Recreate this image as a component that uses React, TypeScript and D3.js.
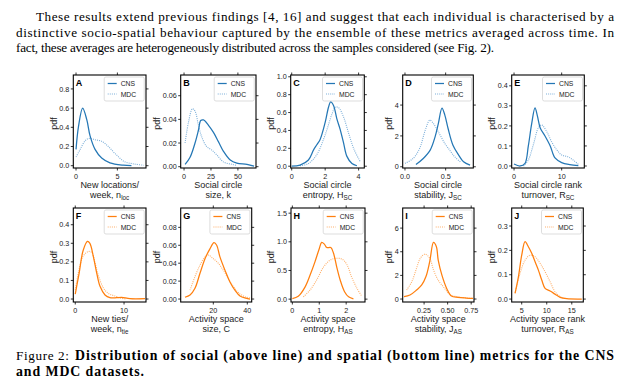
import * as d3 from 'd3'

// ---- data: [x, pdf] ----
const locCNS: [number, number][] = [[0, 0.17], [0.3, 0.41], [0.8, 0.6], [1.3, 0.48], [1.7, 0.31], [2.3, 0.17], [3.1, 0.08], [4.1, 0.03], [5.7, 0.005], [6.7, 0.0]]
const locMDC: [number, number][] = [[0, 0.09], [0.5, 0.17], [1.1, 0.26], [1.6, 0.285], [2.3, 0.27], [3.1, 0.255], [3.9, 0.2], [4.8, 0.12], [5.8, 0.045], [7.0, 0.018], [8.2, 0.005]]

const sizeCNS: [number, number][] = [[1, 0.002], [5.6, 0.008], [10.2, 0.02], [13.4, 0.031], [15.5, 0.039], [18, 0.0395], [22.7, 0.035], [27.3, 0.029], [32, 0.021], [36.6, 0.013], [42.9, 0.0056], [49, 0.003], [58.4, 0.002], [65, 0.0005]]
const sizeMDC: [number, number][] = [[1, 0.02], [4, 0.037], [7.8, 0.049], [10.2, 0.047], [13.4, 0.035], [16.5, 0.025], [21, 0.017], [25.8, 0.014], [30.4, 0.01], [36.6, 0.004], [44.4, 0.002], [49, 0.001]]

const entCNS: [number, number][] = [[0, 0.0], [0.5, 0.013], [1.0, 0.07], [1.3, 0.18], [1.5, 0.24], [1.7, 0.3], [2.0, 0.49], [2.2, 0.66], [2.33, 0.72], [2.5, 0.68], [2.7, 0.53], [2.9, 0.41], [3.1, 0.26], [3.3, 0.11], [3.6, 0.03], [3.9, 0.005]]
const entMDC: [number, number][] = [[0.5, 0.005], [1.0, 0.03], [1.5, 0.13], [2.0, 0.35], [2.4, 0.58], [2.6, 0.66], [2.8, 0.655], [3.1, 0.55], [3.4, 0.37], [3.7, 0.2], [4.1, 0.05]]

const stabCNS: [number, number][] = [[0.135, 0.15], [0.225, 0.54], [0.31, 1.08], [0.37, 1.94], [0.41, 2.8], [0.455, 3.8], [0.49, 3.35], [0.53, 2.48], [0.59, 1.4], [0.66, 0.76], [0.72, 0.32], [0.8, 0.11]]
const stabMDC: [number, number][] = [[0.0, 0.22], [0.1, 0.54], [0.18, 1.19], [0.25, 2.38], [0.305, 3.02], [0.35, 2.8], [0.41, 2.27], [0.49, 1.51], [0.55, 1.08], [0.61, 0.65], [0.68, 0.32]]

const rankCNS: [number, number][] = [[0, 0.01], [1.3, 0.0], [2.3, 0.013], [3.0, 0.1], [3.7, 0.21], [4.4, 0.29], [4.9, 0.25], [5.5, 0.19], [6.5, 0.15], [7.6, 0.1], [8.6, 0.04], [10, 0.017], [11.7, 0.007], [13.5, 0.002]]
const rankMDC: [number, number][] = [[2.0, 0.0], [3.0, 0.03], [4.1, 0.11], [5.1, 0.19], [5.8, 0.205], [6.9, 0.17], [7.9, 0.12], [9.0, 0.08], [10, 0.055], [11.4, 0.045], [12.4, 0.03], [13.5, 0.008]]

const tieCNS: [number, number][] = [[0, 0.027], [0.8, 0.14], [1.6, 0.26], [2.5, 0.31], [3.0, 0.3], [3.7, 0.23], [4.4, 0.14], [5.1, 0.067], [6.1, 0.022], [7.1, 0.007], [8.5, 0.007], [9.5, 0.009], [11.2, 0.002], [14.3, 0.002]]
const tieMDC: [number, number][] = [[0, 0.05], [0.8, 0.16], [1.6, 0.23], [2.7, 0.256], [3.4, 0.25], [4.0, 0.2], [4.7, 0.13], [5.8, 0.058], [6.8, 0.03], [8.2, 0.016], [9.5, 0.004], [10.5, 0.0]]

const asSizeCNS: [number, number][] = [[3.3, 0.002], [6.3, 0.0045], [9.2, 0.012], [12.2, 0.029], [15.1, 0.045], [18, 0.056], [20.4, 0.063], [22, 0.06], [23.9, 0.047], [26.9, 0.032], [29.8, 0.019], [32.7, 0.01], [35.7, 0.0035], [39.2, 0.001], [41.6, 0.0]]
const asSizeMDC: [number, number][] = [[6.3, 0.01], [9.2, 0.025], [12.2, 0.038], [15.1, 0.047], [17.1, 0.049], [20, 0.045], [22.9, 0.04], [25.9, 0.032], [28.8, 0.023], [31.8, 0.014], [35.7, 0.0056], [39.6, 0.002], [42.5, 0.001]]

const asEntCNS: [number, number][] = [[0, 0.01], [0.22, 0.05], [0.47, 0.21], [0.66, 0.42], [0.84, 0.65], [1.0, 0.88], [1.09, 0.99], [1.19, 0.96], [1.28, 0.9], [1.43, 0.9], [1.53, 0.8], [1.65, 0.56], [1.78, 0.33], [1.94, 0.13], [2.09, 0.04], [2.27, 0.005]]
const asEntMDC: [number, number][] = [[0.41, 0.04], [0.66, 0.16], [0.91, 0.34], [1.16, 0.56], [1.4, 0.68], [1.59, 0.71], [1.84, 0.7], [2.02, 0.61], [2.2, 0.39], [2.4, 0.19], [2.58, 0.05]]

const asStabCNS: [number, number][] = [[0.037, 0.2], [0.1, 0.34], [0.17, 0.76], [0.225, 1.19], [0.27, 1.9], [0.31, 3.17], [0.35, 4.8], [0.38, 4.45], [0.4, 3.3], [0.44, 2.0], [0.49, 0.9], [0.54, 0.25], [0.61, 0.14], [0.7, 0.08], [0.77, 0.05]]
const asStabMDC: [number, number][] = [[0.065, 0.76], [0.12, 1.47], [0.17, 2.6], [0.21, 3.45], [0.26, 3.8], [0.31, 3.45], [0.35, 2.46], [0.4, 1.6], [0.46, 0.99], [0.53, 0.34], [0.6, 0.2], [0.7, 0.08], [0.76, 0.05]]

const asRankCNS: [number, number][] = [[3.67, 0.023], [4.33, 0.09], [5.0, 0.18], [5.67, 0.236], [6.33, 0.215], [7.0, 0.188], [7.67, 0.153], [8.33, 0.119], [9.0, 0.078], [9.67, 0.044], [10.67, 0.033], [11.67, 0.02], [12.67, 0.007], [14, 0.0014], [17, 0.0]]
const asRankMDC: [number, number][] = [[3.67, 0.026], [4.67, 0.105], [5.67, 0.16], [6.67, 0.18], [7.67, 0.174], [8.67, 0.147], [9.67, 0.112], [10.67, 0.071], [11.67, 0.03], [12.67, 0.01], [13.67, 0.003]]

const legendLabels = ['CNS', 'MDC']
const panelLetters = ['A', 'B', 'C', 'D', 'E', 'F', 'G', 'H', 'I', 'J']

const paragraph = [
  'These results extend previous findings [4, 16] and suggest that each individual is characterised by a',
  'distinctive socio-spatial behaviour captured by the ensemble of these metrics averaged across time. In',
  'fact, these averages are heterogeneously distributed across the samples considered (see Fig. 2).',
]
const captionHead = 'Figure 2:'
const captionBold = ['Distribution of social (above line) and spatial (bottom line) metrics for the CNS', 'and MDC datasets.']

const BLUE = { cns: '#2477b5', mdc: '#7cafd9' }
const ORANGE = { cns: '#ff7f0e', mdc: '#ffb06b' }

const SANS = '"Liberation Sans", Arial, sans-serif'
const SERIF = '"Liberation Serif", "Times New Roman", serif'

const TOP = { y0: 75, y1: 168 }
const BOT = { y0: 208, y1: 302 }

type Row = { y0: number; y1: number }
type Panel = {
  row: Row
  x0: number
  x1: number
  xd: [number, number]
  yd: [number, number]
  xt: number[]
  yt: number[]
  xf: string
  yf: string
  label: [string, string, string]
  cns: [number, number][]
  mdc: [number, number][]
  pal: { cns: string; mdc: string }
}

const panels: Panel[] = [
  { row: TOP, x0: 73.3, x1: 146, xd: [-0.33, 8.46], yd: [-0.024, 0.945], xt: [0, 5], yt: [0, 0.2, 0.4, 0.6, 0.8], xf: 'd', yf: '.1f', label: ['New locations/', 'week, n', 'loc'], cns: locCNS, mdc: locMDC, pal: BLUE },
  { row: TOP, x0: 180.7, x1: 256, xd: [-3.1, 66.8], yd: [-0.0011, 0.0775], xt: [0, 25, 50], yt: [0, 0.02, 0.04, 0.06], xf: 'd', yf: '.2f', label: ['Social circle', 'size, k', ''], cns: sizeCNS, mdc: sizeMDC, pal: BLUE },
  { row: TOP, x0: 290.7, x1: 364.3, xd: [-0.06, 4.34], yd: [-0.02, 1.02], xt: [0, 2, 4], yt: [0, 0.2, 0.4, 0.6, 0.8, 1.0], xf: 'd', yf: '.1f', label: ['Social circle', 'entropy, H', 'SC'], cns: entCNS, mdc: entMDC, pal: BLUE },
  { row: TOP, x0: 402.7, x1: 473.3, xd: [-0.028, 0.84], yd: [-0.08, 5.95], xt: [0, 0.5], yt: [0, 2, 4], xf: '.1f', yf: 'd', label: ['Social circle', 'stability, J', 'SC'], cns: stabCNS, mdc: stabMDC, pal: BLUE },
  { row: TOP, x0: 511.7, x1: 584.3, xd: [-0.49, 14.75], yd: [-0.01, 0.454], xt: [0, 10], yt: [0, 0.1, 0.2, 0.3, 0.4], xf: 'd', yf: '.1f', label: ['Social circle rank', 'turnover, R', 'SC'], cns: rankCNS, mdc: rankMDC, pal: BLUE },
  { row: BOT, x0: 73.3, x1: 146, xd: [-0.4, 14.5], yd: [-0.016, 0.49], xt: [0, 10], yt: [0, 0.1, 0.2, 0.3, 0.4], xf: 'd', yf: '.1f', label: ['New ties/', 'week, n', 'tie'], cns: tieCNS, mdc: tieMDC, pal: ORANGE },
  { row: BOT, x0: 180.7, x1: 251.7, xd: [0.8, 42.6], yd: [-0.0033, 0.1016], xt: [20, 40], yt: [0, 0.02, 0.04, 0.06, 0.08], xf: 'd', yf: '.2f', label: ['Activity space', 'size, C', ''], cns: asSizeCNS, mdc: asSizeMDC, pal: ORANGE },
  { row: BOT, x0: 291, x1: 365, xd: [-0.05, 2.7], yd: [-0.05, 1.59], xt: [0, 1, 2], yt: [0, 0.5, 1.0, 1.5], xf: 'd', yf: '.1f', label: ['Activity space', 'entropy, H', 'AS'], cns: asEntCNS, mdc: asEntMDC, pal: ORANGE },
  { row: BOT, x0: 402.7, x1: 474, xd: [0.023, 0.78], yd: [-0.25, 7.7], xt: [0.25, 0.5, 0.75], yt: [0, 2, 4, 6], xf: '.2f', yf: 'd', label: ['Activity space', 'stability, J', 'AS'], cns: asStabCNS, mdc: asStabMDC, pal: ORANGE },
  { row: BOT, x0: 511.7, x1: 583.3, xd: [3.0, 17.3], yd: [-0.012, 0.374], xt: [5, 10, 15], yt: [0, 0.1, 0.2, 0.3], xf: 'd', yf: '.1f', label: ['Activity space rank', 'turnover, R', 'AS'], cns: asRankCNS, mdc: asRankMDC, pal: ORANGE },
]

const TICK_FS = 7.2
const TICK = 2.5
const LABEL_FS = 9

// rough Arial width of a numeric label
function numWidth(s: string, fs: number) {
  let w = 0
  for (const c of s) w += c === '.' ? 0.278 : 0.556
  return w * fs
}

function ChartPanel({ p, letter }: { p: Panel; letter: string }) {
  const x = d3.scaleLinear().domain(p.xd).range([p.x0, p.x1])
  const y = d3.scaleLinear().domain(p.yd).range([p.row.y1, p.row.y0])
  const line = d3.line<[number, number]>()
    .x(d => x(d[0]))
    .y(d => y(d[1]))
    .curve(d3.curveCatmullRom.alpha(0.5))
  const xfmt = d3.format(p.xf)
  const yfmt = d3.format(p.yf)
  const yLabels = p.yt.map(t => yfmt(t))
  const maxW = d3.max(yLabels, s => numWidth(s, TICK_FS)) || 0
  const pdfX = p.x0 - TICK - 1.5 - maxW - 2.5
  const cx = (p.x0 + p.x1) / 2
  const { y0, y1 } = p.row
  const bw = 40
  const bx = p.x1 - 1.8 - bw
  const by = y0 + 2

  return (
    <g>
      {/* curves */}
      <path d={line(p.mdc) || ''} fill="none" stroke={p.pal.mdc} strokeWidth={1.1} strokeDasharray="1,1.1" />
      <path d={line(p.cns) || ''} fill="none" stroke={p.pal.cns} strokeWidth={1.25} />

      {/* frame */}
      <rect x={p.x0} y={y0} width={p.x1 - p.x0} height={y1 - y0} fill="none" stroke="#000" strokeWidth={1.1} />

      {/* x ticks, bottom and top */}
      {p.xt.map(t => (
        <g key={'x' + t}>
          <line x1={x(t)} x2={x(t)} y1={y1} y2={y1 + TICK} stroke="#000" strokeWidth={0.8} />
          <line x1={x(t)} x2={x(t)} y1={y0} y2={y0 - TICK} stroke="#000" strokeWidth={0.8} />
          <text x={x(t)} y={y1 + 11} textAnchor="middle" fontSize={TICK_FS} fontFamily={SANS} fill="#222">{xfmt(t)}</text>
        </g>
      ))}
      {/* y ticks, left and right */}
      {p.yt.map((t, i) => (
        <g key={'y' + t}>
          <line x1={p.x0} x2={p.x0 - TICK} y1={y(t)} y2={y(t)} stroke="#000" strokeWidth={0.8} />
          <line x1={p.x1} x2={p.x1 + TICK} y1={y(t)} y2={y(t)} stroke="#000" strokeWidth={0.8} />
          <text x={p.x0 - TICK - 1.5} y={y(t) + 2.6} textAnchor="end" fontSize={TICK_FS} fontFamily={SANS} fill="#222">{yLabels[i]}</text>
        </g>
      ))}

      {/* pdf label */}
      <text transform={`translate(${pdfX},${(y0 + y1) / 2 + 2}) rotate(-90)`} textAnchor="middle" fontSize={LABEL_FS} fontFamily={SANS} fill="#222">pdf</text>

      {/* x label */}
      <text x={cx} y={y1 + 20} textAnchor="middle" fontSize={LABEL_FS} fontFamily={SANS} fill="#222">{p.label[0]}</text>
      <text x={cx} y={y1 + 29.5} textAnchor="middle" fontSize={LABEL_FS} fontFamily={SANS} fill="#222">
        {p.label[1]}
        {p.label[2] && <tspan fontSize={6.3} dy={2}>{p.label[2]}</tspan>}
      </text>

      {/* panel letter */}
      <text x={p.x0 + 2.5} y={y0 + 10.5} fontSize={9} fontWeight="bold" fontFamily={SANS} fill="#000">{letter}</text>

      {/* legend */}
      <rect x={bx} y={by} width={bw} height={24} rx={1.8} fill="#fff" fillOpacity={0.8} stroke="#cfcfcf" strokeWidth={0.7} />
      <line x1={bx + 3.5} x2={bx + 12.5} y1={by + 6.5} y2={by + 6.5} stroke={p.pal.cns} strokeWidth={1.25} />
      <line x1={bx + 3.5} x2={bx + 12.5} y1={by + 17} y2={by + 17} stroke={p.pal.mdc} strokeWidth={1.1} strokeDasharray="1,1.1" />
      <text x={bx + 16.5} y={by + 9} fontSize={6.8} fontFamily={SANS} fill="#222">{legendLabels[0]}</text>
      <text x={bx + 16.5} y={by + 19.5} fontSize={6.8} fontFamily={SANS} fill="#222">{legendLabels[1]}</text>
    </g>
  )
}

export default function App() {
  const W = 628
  const H = 390
  const TXT = 13.2
  const CAP = 13.8
  return (
    <svg width={W} height={H} style={{ position: 'absolute', left: 0, top: 0, background: '#fff' }}>
      <rect width={W} height={H} fill="#fff" />
      <text x={36} y={21} fontSize={TXT} fontFamily={SERIF} textLength={578} lengthAdjust="spacing">{paragraph[0]}</text>
      <text x={16} y={36.5} fontSize={TXT} fontFamily={SERIF} textLength={598} lengthAdjust="spacing">{paragraph[1]}</text>
      <text x={16} y={52} fontSize={TXT} fontFamily={SERIF} textLength={478} lengthAdjust="spacing">{paragraph[2]}</text>

      {panels.map((p, i) => <ChartPanel key={i} p={p} letter={panelLetters[i]} />)}

      <text x={16} y={360} fontSize={TXT} fontFamily={SERIF} textLength={53} lengthAdjust="spacing">{captionHead}</text>
      <text x={75} y={360} fontSize={CAP} fontFamily={SERIF} fontWeight="bold" textLength={539} lengthAdjust="spacing">{captionBold[0]}</text>
      <text x={16} y={375.5} fontSize={CAP} fontFamily={SERIF} fontWeight="bold" textLength={128} lengthAdjust="spacing">{captionBold[1]}</text>
    </svg>
  )
}
